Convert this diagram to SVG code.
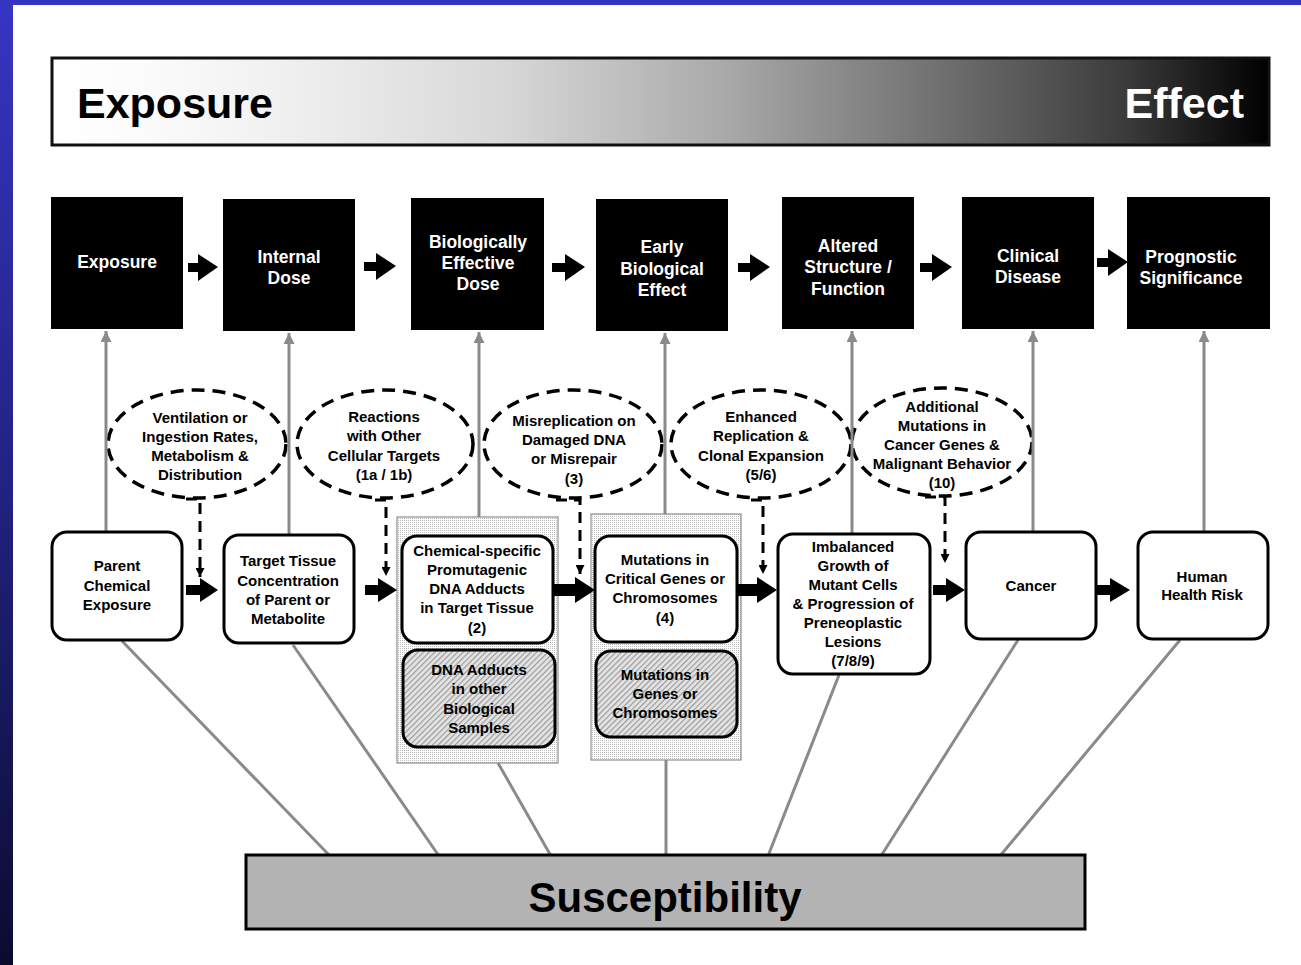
<svg xmlns="http://www.w3.org/2000/svg" width="1301" height="965" viewBox="0 0 1301 965">
<defs>
<linearGradient id="hdr" x1="0" y1="0" x2="1" y2="0">
<stop offset="0" stop-color="#ffffff"/>
<stop offset="0.08" stop-color="#fbfbfb"/>
<stop offset="0.19" stop-color="#f0f0f0"/>
<stop offset="0.37" stop-color="#d8d8d8"/>
<stop offset="0.55" stop-color="#aaaaaa"/>
<stop offset="0.73" stop-color="#707070"/>
<stop offset="0.88" stop-color="#3c3c3c"/>
<stop offset="1" stop-color="#000000"/>
</linearGradient>
<linearGradient id="side" x1="0" y1="0" x2="0" y2="1">
<stop offset="0" stop-color="#3535c4"/>
<stop offset="0.5" stop-color="#222282"/>
<stop offset="1" stop-color="#0b0b30"/>
</linearGradient>
<pattern id="dots" width="2" height="2" patternUnits="userSpaceOnUse">
<rect width="2" height="2" fill="#ffffff"/>
<rect width="1" height="1" fill="#bcbcbc"/>
</pattern>
<pattern id="hatch" width="4" height="4" patternUnits="userSpaceOnUse" patternTransform="rotate(45)">
<rect width="4" height="4" fill="#e4e4e4"/>
<rect width="1.2" height="4" fill="#9a9a9a"/>
</pattern>
<marker id="dh" viewBox="0 0 10 10" refX="10" refY="5" markerWidth="10" markerHeight="9" markerUnits="userSpaceOnUse" orient="auto">
<path d="M0,0 L10,5 L0,10 z" fill="#000"/>
</marker>
<marker id="gh" viewBox="0 0 10 10" refX="10" refY="5" markerWidth="12" markerHeight="11" markerUnits="userSpaceOnUse" orient="auto">
<path d="M0,0 L10,5 L0,10 z" fill="#8a8a8a"/>
</marker>
</defs>
<style>
text{font-family:"Liberation Sans",Arial,sans-serif;font-weight:bold;text-anchor:middle;fill:#000}
.top text{fill:#fff;font-size:17.5px}
.topbox{fill:#000}
.sm{font-size:15px}
.rbox{fill:#fff;stroke:#000;stroke-width:3}
.hbox{fill:url(#hatch);stroke:#000;stroke-width:3}
.grp{fill:url(#dots);stroke:#7a7a7a;stroke-width:1}
.ell{fill:none;stroke:#000;stroke-width:3.5;stroke-dasharray:13 8}
.dash{fill:none;stroke:#000;stroke-width:3;stroke-dasharray:11 7}
.gray{fill:none;stroke:#8a8a8a;stroke-width:3}
.blk{fill:#000}
</style>
<rect x="0" y="0" width="1301" height="965" fill="#ffffff"/>
<rect x="0" y="0" width="13" height="965" fill="url(#side)"/>
<rect x="0" y="0" width="1301" height="5" fill="#3434be"/>

<g id="header">
<rect x="52" y="58" width="1217" height="87" fill="url(#hdr)" stroke="#111" stroke-width="3"/>
<text x="77" y="118" style="text-anchor:start;font-size:43px">Exposure</text>
<text x="1244" y="118" style="text-anchor:end;font-size:43px;fill:#fff">Effect</text>
</g>

<g class="top">
<g id="t-exposure"><rect class="topbox" x="51" y="197" width="132" height="132"/><text x="117" y="268">Exposure</text></g>
<g id="t-internal"><rect class="topbox" x="223" y="199" width="132" height="132"/><text x="289" y="263">Internal</text><text x="289" y="284">Dose</text></g>
<g id="t-bed"><rect class="topbox" x="411" y="198" width="133" height="132"/><text x="478" y="248">Biologically</text><text x="478" y="269">Effective</text><text x="478" y="290">Dose</text></g>
<g id="t-ebe"><rect class="topbox" x="596" y="199" width="132" height="132"/><text x="662" y="253">Early</text><text x="662" y="275">Biological</text><text x="662" y="296">Effect</text></g>
<g id="t-asf"><rect class="topbox" x="782" y="197" width="132" height="132"/><text x="848" y="252">Altered</text><text x="848" y="273">Structure /</text><text x="848" y="295">Function</text></g>
<g id="t-cd"><rect class="topbox" x="962" y="197" width="132" height="132"/><text x="1028" y="262">Clinical</text><text x="1028" y="283">Disease</text></g>
<g id="t-ps"><rect class="topbox" x="1127" y="197" width="143" height="132"/><text x="1191" y="263">Prognostic</text><text x="1191" y="284">Significance</text></g>
</g>

<g id="ellipses">
<g id="e1"><ellipse class="ell" cx="197" cy="444" rx="89" ry="54"/>
<text class="sm" x="200" y="423">Ventilation or</text><text class="sm" x="200" y="442">Ingestion Rates,</text><text class="sm" x="200" y="461">Metabolism &amp;</text><text class="sm" x="200" y="480">Distribution</text></g>
<g id="e2"><ellipse class="ell" cx="385" cy="444" rx="88" ry="54"/>
<text class="sm" x="384" y="422">Reactions</text><text class="sm" x="384" y="441">with Other</text><text class="sm" x="384" y="461">Cellular Targets</text><text class="sm" x="384" y="480">(1a / 1b)</text></g>
<g id="e3"><ellipse class="ell" cx="573" cy="444" rx="89" ry="54"/>
<text class="sm" x="574" y="426">Misreplication on</text><text class="sm" x="574" y="445">Damaged DNA</text><text class="sm" x="574" y="464">or Misrepair</text><text class="sm" x="574" y="484">(3)</text></g>
<g id="e4"><ellipse class="ell" cx="761" cy="444" rx="90" ry="54"/>
<text class="sm" x="761" y="422">Enhanced</text><text class="sm" x="761" y="441">Replication &amp;</text><text class="sm" x="761" y="461">Clonal Expansion</text><text class="sm" x="761" y="480">(5/6)</text></g>
<g id="e5"><ellipse class="ell" cx="942" cy="442" rx="90" ry="54"/>
<text class="sm" x="942" y="412">Additional</text><text class="sm" x="942" y="431">Mutations in</text><text class="sm" x="942" y="450">Cancer Genes &amp;</text><text class="sm" x="942" y="469">Malignant Behavior</text><text class="sm" x="942" y="488">(10)</text></g>
</g>

<g id="groups">
<rect class="grp" x="397" y="517" width="161" height="246"/>
<rect class="grp" x="591" y="514" width="150" height="246"/>
</g>

<g id="connectors">
<path class="gray" d="M106,532 V331" marker-end="url(#gh)"/>
<path class="gray" d="M289,535 V333" marker-end="url(#gh)"/>
<path class="gray" d="M479,517 V332" marker-end="url(#gh)"/>
<path class="gray" d="M665,514 V333" marker-end="url(#gh)"/>
<path class="gray" d="M852,533 V331" marker-end="url(#gh)"/>
<path class="gray" d="M1033,532 V331" marker-end="url(#gh)"/>
<path class="gray" d="M1204,532 V331" marker-end="url(#gh)"/>
<path class="gray" d="M122,641 L330,856"/>
<path class="gray" d="M293,645 L439,856"/>
<path class="gray" d="M498,763 L551,856"/>
<path class="gray" d="M666,760 V856"/>
<path class="gray" d="M839,675 L768,856"/>
<path class="gray" d="M1018,640 L881,856"/>
<path class="gray" d="M1180,640 L1000,856"/>
<path class="dash" d="M186,499 H200 V577" marker-end="url(#dh)"/>
<path class="dash" d="M375,500 H386 V576" marker-end="url(#dh)"/>
<path class="dash" d="M556,500 H580 V574" marker-end="url(#dh)"/>
<path class="dash" d="M751,500 H763 V574" marker-end="url(#dh)"/>
<path class="dash" d="M925,497 H945 V563" marker-end="url(#dh)"/>
<path class="blk" d="M188,263 H198 V254 L218,267 L198,281 V272 H188 z"/>
<path class="blk" d="M364,262 H376 V253 L396,266 L376,280 V271 H364 z"/>
<path class="blk" d="M552,263 H565 V254 L585,267 L565,281 V272 H552 z"/>
<path class="blk" d="M738,263 H750 V254 L770,267 L750,281 V272 H738 z"/>
<path class="blk" d="M920,263 H932 V254 L952,267 L932,281 V272 H920 z"/>
<path class="blk" d="M1097,258 H1108 V249 L1128,262 L1108,276 V267 H1097 z"/>
<path class="blk" d="M186,585 H200 V578 L218,590 L200,602 V595 H186 z"/>
<path class="blk" d="M365,585 H378 V578 L397,590 L378,602 V595 H365 z"/>
<path class="blk" d="M553,584 H575 V577 L595,590 L575,603 V596 H553 z"/>
<path class="blk" d="M737,584 H757 V577 L777,590 L757,603 V596 H737 z"/>
<path class="blk" d="M933,585 H946 V578 L965,590 L946,602 V595 H933 z"/>
<path class="blk" d="M1097,585 H1110 V578 L1130,590 L1110,602 V595 H1097 z"/>
</g>

<g id="n-parent"><rect class="rbox" x="52" y="532" width="130" height="108" rx="15"/>
<text class="sm" x="117" y="571">Parent</text><text class="sm" x="117" y="591">Chemical</text><text class="sm" x="117" y="610">Exposure</text></g>
<g id="n-target"><rect class="rbox" x="224" y="535" width="130" height="108" rx="15"/>
<text class="sm" x="288" y="566">Target Tissue</text><text class="sm" x="288" y="586">Concentration</text><text class="sm" x="288" y="605">of Parent or</text><text class="sm" x="288" y="624">Metabolite</text></g>
<g id="n-chem"><rect class="rbox" x="402" y="536" width="151" height="107" rx="15"/>
<text class="sm" x="477" y="556">Chemical-specific</text><text class="sm" x="477" y="575">Promutagenic</text><text class="sm" x="477" y="594">DNA Adducts</text><text class="sm" x="477" y="613">in Target Tissue</text><text class="sm" x="477" y="633">(2)</text></g>
<g id="n-adducts"><rect class="hbox" x="403" y="650" width="152" height="97" rx="15"/>
<text class="sm" x="479" y="675">DNA Adducts</text><text class="sm" x="479" y="694">in other</text><text class="sm" x="479" y="714">Biological</text><text class="sm" x="479" y="733">Samples</text></g>
<g id="n-mutcrit"><rect class="rbox" x="595" y="536" width="142" height="106" rx="15"/>
<text class="sm" x="665" y="565">Mutations in</text><text class="sm" x="665" y="584">Critical Genes or</text><text class="sm" x="665" y="603">Chromosomes</text><text class="sm" x="665" y="623">(4)</text></g>
<g id="n-mutgen"><rect class="hbox" x="596" y="651" width="141" height="86" rx="15"/>
<text class="sm" x="665" y="680">Mutations in</text><text class="sm" x="665" y="699">Genes or</text><text class="sm" x="665" y="718">Chromosomes</text></g>
<g id="n-imbal"><rect class="rbox" x="778" y="534" width="152" height="140" rx="15"/>
<text class="sm" x="853" y="552">Imbalanced</text><text class="sm" x="853" y="571">Growth of</text><text class="sm" x="853" y="590">Mutant Cells</text><text class="sm" x="853" y="609">&amp; Progression of</text><text class="sm" x="853" y="628">Preneoplastic</text><text class="sm" x="853" y="647">Lesions</text><text class="sm" x="853" y="666">(7/8/9)</text></g>
<g id="n-cancer"><rect class="rbox" x="966" y="532" width="130" height="107" rx="15"/>
<text class="sm" x="1031" y="591">Cancer</text></g>
<g id="n-risk"><rect class="rbox" x="1138" y="532" width="130" height="107" rx="15"/>
<text class="sm" x="1202" y="582">Human</text><text class="sm" x="1202" y="600">Health Risk</text></g>

<g id="n-susceptibility"><rect x="246" y="855" width="839" height="74" fill="#b3b3b3" stroke="#000" stroke-width="3"/>
<text x="665" y="912" style="font-size:42px">Susceptibility</text></g>
</svg>
